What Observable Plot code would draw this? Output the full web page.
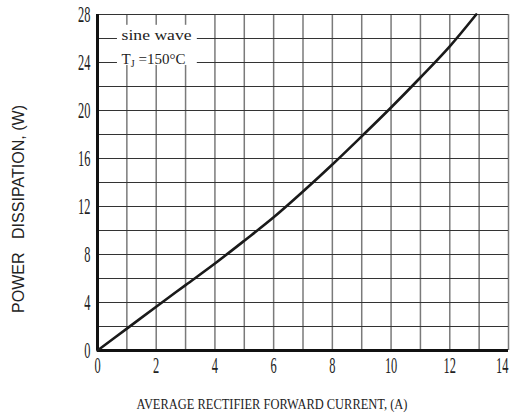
<!DOCTYPE html>
<html><head><meta charset="utf-8">
<script src="https://cdn.jsdelivr.net/npm/d3@7"></script>
<script src="https://cdn.jsdelivr.net/npm/@observablehq/plot@0.6"></script>
<style>body{margin:0;background:#fff}</style>
</head><body><div id="chart"></div>
<script>
const currents = [0, 1, 2, 3, 4, 5, 6, 7, 8, 9, 10, 11, 12, 12.9];
const powers   = [0, 1.82, 3.65, 5.45, 7.25, 9.15, 11.1, 13.25, 15.5, 17.85, 20.25, 22.75, 25.35, 28];
const xTicks = [0, 2, 4, 6, 8, 10, 12, 14];
const yTicks = [0, 4, 8, 12, 16, 20, 24, 28];
const xGrid = [1, 2, 3, 4, 5, 6, 7, 8, 9, 10, 11, 12, 13, 14];
const yGrid = [2, 4, 6, 8, 10, 12, 14, 16, 18, 20, 22, 24, 26, 28];
const noteLines = ["sine wave", "TJ =150°C"];
const noteY = [26.25, 24.3];
const xLabel = "AVERAGE RECTIFIER FORWARD CURRENT, (A)";
const yLabel = "POWER   DISSIPATION, (W)";

const data = currents.map((c, i) => ({current: c, power: powers[i]}));
const notes = noteLines.map((t, i) => ({text: t, y: noteY[i]}));

const plot = Plot.plot({
  width: 513, height: 416,
  marginLeft: 97, marginRight: 5, marginTop: 14, marginBottom: 66,
  x: {domain: [0, 14]},
  y: {domain: [0, 28]},
  style: {fontFamily: "'Liberation Serif', serif", background: "#fff", color: "#222"},
  marks: [
    Plot.ruleX(xGrid, {stroke: "#7a7a7a", strokeWidth: 1.5}),
    Plot.ruleY(yGrid, {stroke: "#333", strokeWidth: 1.2}),
    Plot.rect([0], {x1: 0.68, x2: 3.4, y1: 23.75, y2: 27.1, fill: "white"}),
    Plot.text(notes, {x: 0.82, y: "y", text: "text", textAnchor: "start", fontSize: 15, fill: "#222"}),
    Plot.ruleX([0], {stroke: "#111", strokeWidth: 3}),
    Plot.ruleY([0], {stroke: "#111", strokeWidth: 3}),
    Plot.line(data, {x: "current", y: "power", stroke: "#1a1a1a", strokeWidth: 2.6, curve: "catmull-rom"}),
    Plot.axisX({ticks: xTicks, tickSize: 0, tickPadding: 6, fontSize: 23, label: null}),
    Plot.axisY({ticks: yTicks, tickSize: 0, tickPadding: 7, fontSize: 23, label: null})
  ]
});
document.getElementById("chart").appendChild(plot);

const svg = d3.select(plot);
// condensed tick labels
svg.selectAll('g[aria-label="x-axis tick label"] text, g[aria-label="y-axis tick label"] text')
  .each(function() {
    const n = this.textContent.length;
    d3.select(this).attr("textLength", n * 6.2).attr("lengthAdjust", "spacingAndGlyphs");
  });
svg.selectAll('g[aria-label="x-axis tick label"] text').each(function() {
  if (this.textContent === "14") d3.select(this).attr("text-anchor", "end").attr("dx", 0);
});
// note text with subscript
svg.selectAll("text").each(function() {
  const t = this.textContent;
  if (t === noteLines[0]) {
    d3.select(this).attr("textLength", 70).attr("lengthAdjust", "spacingAndGlyphs");
  } else if (t === noteLines[1]) {
    const el = d3.select(this);
    el.text(null);
    el.append("tspan").text("T");
    el.append("tspan").attr("font-size", 10).attr("dy", 3).text("J");
    el.append("tspan").attr("dy", -3).text(" =150°C");
    el.attr("textLength", 64).attr("lengthAdjust", "spacingAndGlyphs");
  }
});
// axis titles
svg.append("text")
  .attr("x", 272).attr("y", 409)
  .attr("text-anchor", "middle")
  .attr("font-family", "'Liberation Serif', serif")
  .attr("font-size", 14).attr("fill", "#222")
  .attr("textLength", 271).attr("lengthAdjust", "spacingAndGlyphs")
  .text(xLabel);
svg.append("text")
  .attr("transform", "translate(24,209) rotate(-90)")
  .attr("text-anchor", "middle")
  .attr("font-family", "'Liberation Sans', Arial, sans-serif")
  .attr("font-size", 17).attr("fill", "#222")
  .attr("textLength", 208).attr("lengthAdjust", "spacingAndGlyphs")
  .text(yLabel);
</script>
</body></html>
